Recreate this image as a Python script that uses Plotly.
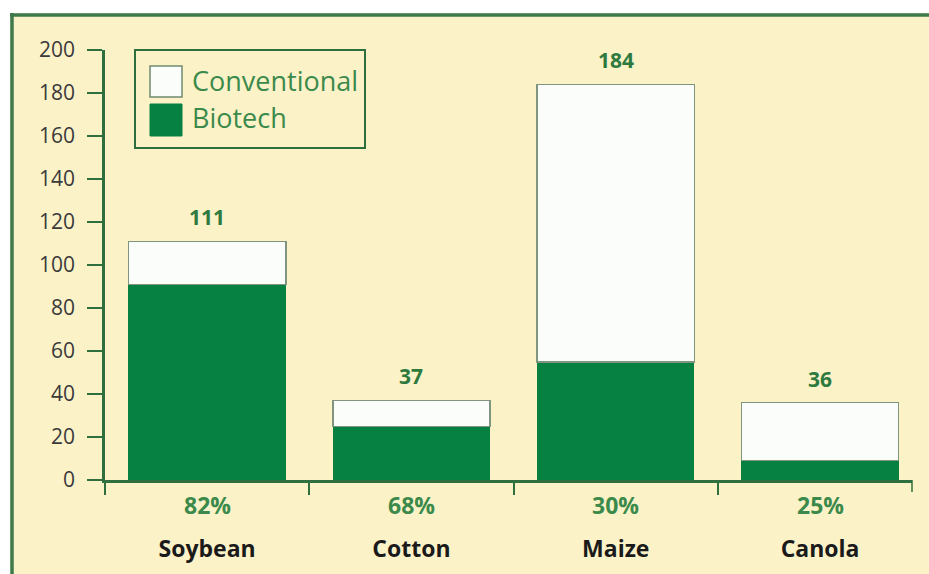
import plotly.graph_objects as go

# ---- data ----
crops = ["Soybean", "Cotton", "Maize", "Canola"]
totals = [111, 37, 184, 36]
biotech = [91, 25, 55, 9]
biotech_share = ["82%", "68%", "30%", "25%"]
conventional = [t - b for t, b in zip(totals, biotech)]
y_ticks = [0, 20, 40, 60, 80, 100, 120, 140, 160, 180, 200]

# ---- style ----
W, H = 929, 574
ML, MR, MT, MB = 105, 17, 50, 94
PW, PH = W - ML - MR, H - MT - MB
CAT_PX = 204.3  # pixel width of one category slot
CREAM = "#fcf2c8"
DKGREEN = "#2f6f3f"
BORDER = "#3f7a4c"
BIO = "#078141"
TXTGREEN = "#3b8a4b"
FONT = "Open Sans"

def px(x):
    return (x - ML) / PW

def py(y):
    return (H - MB - y) / PH

fig = go.Figure()
fig.add_trace(go.Bar(
    x=crops, y=biotech, name="Biotech",
    marker=dict(color=BIO, line=dict(width=0)),
    showlegend=False, hoverinfo="skip",
))
fig.add_trace(go.Bar(
    x=crops, y=conventional, name="Conventional",
    marker=dict(color="#fbfdfb", line=dict(color="#7f957f", width=1.5)),
    showlegend=False, hoverinfo="skip",
))

annotations = []
for c, t in zip(crops, totals):
    annotations.append(dict(
        x=c, y=t, xref="x", yref="y", text=f"<b>{t}</b>", showarrow=False,
        yanchor="bottom", yshift=8,
        font=dict(family=FONT, size=21, color="#2e7a3e"),
    ))
for c, p in zip(crops, biotech_share):
    annotations.append(dict(
        x=c, y=0, xref="x", yref="paper", text=f"<b>{p}</b>", showarrow=False,
        yanchor="middle", yshift=-25,
        font=dict(family=FONT, size=23, color=TXTGREEN),
    ))

# legend text
annotations.append(dict(x=px(190), y=py(80), xref="paper", yref="paper", text="Conventional",
                        showarrow=False, xanchor="left", yanchor="middle",
                        font=dict(family=FONT, size=27, color=TXTGREEN)))
annotations.append(dict(x=px(190), y=py(118), xref="paper", yref="paper", text="Biotech",
                        showarrow=False, xanchor="left", yanchor="middle",
                        font=dict(family=FONT, size=27, color=TXTGREEN)))

shapes = [
    # white strips outside the panel (top and left)
    dict(type="rect", xref="paper", yref="paper", layer="below",
         x0=px(-50), x1=px(1000), y0=py(13), y1=py(-50),
         fillcolor="white", line=dict(width=0)),
    dict(type="rect", xref="paper", yref="paper", layer="below",
         x0=px(-50), x1=px(10), y0=py(700), y1=py(-50),
         fillcolor="white", line=dict(width=0)),
    # panel border: top and left edges
    dict(type="line", xref="paper", yref="paper", layer="below",
         x0=px(10), x1=px(1000), y0=py(15), y1=py(15),
         line=dict(color=BORDER, width=3.5)),
    dict(type="line", xref="paper", yref="paper", layer="below",
         x0=px(12), x1=px(12), y0=py(13), y1=py(700),
         line=dict(color=BORDER, width=3.5)),
    # closing tick at the right end of the x axis
    dict(type="line", xref="paper", yref="paper",
         x0=1, x1=1, y0=0, y1=py(492),
         line=dict(color=DKGREEN, width=1.5)),
    # legend box
    dict(type="rect", xref="paper", yref="paper",
         x0=px(135), x1=px(365), y0=py(148), y1=py(50),
         fillcolor="rgba(0,0,0,0)", line=dict(color=DKGREEN, width=2)),
    dict(type="rect", xref="paper", yref="paper",
         x0=px(150), x1=px(182), y0=py(97), y1=py(66),
         fillcolor="#fbfdfb", line=dict(color="#6f8a6f", width=1.5)),
    dict(type="rect", xref="paper", yref="paper",
         x0=px(150), x1=px(182), y0=py(136), y1=py(104),
         fillcolor=BIO, line=dict(color=BIO, width=1)),
]

fig.update_layout(
    width=W, height=H,
    margin=dict(l=ML, r=MR, t=MT, b=MB, autoexpand=False),
    paper_bgcolor=CREAM,
    plot_bgcolor="rgba(0,0,0,0)",
    barmode="stack",
    bargap=0.23,
    showlegend=False,
    annotations=annotations,
    shapes=shapes,
    font=dict(family=FONT),
)
fig.update_xaxes(
    type="category", range=[-0.5, -0.5 + PW / CAT_PX],
    showline=True, linecolor=DKGREEN, linewidth=2.5,
    ticks="outside", ticklen=12, tickwidth=1.5, tickcolor=DKGREEN,
    tickson="boundaries",
    showgrid=False, zeroline=False,
    tickfont=dict(family=FONT, size=23, color="#1a1a1a", weight="bold"),
    ticklabelstandoff=47,
)
fig.update_yaxes(
    range=[0, 200], tickvals=y_ticks,
    showline=True, linecolor=DKGREEN, linewidth=2.5,
    ticks="outside", ticklen=15, tickwidth=1.5, tickcolor=DKGREEN,
    showgrid=False, zeroline=False,
    tickfont=dict(family=FONT, size=21, color="#3a3a3a"),
    ticklabelstandoff=8,
)

fig.write_html(
    "out.html",
    config={"displayModeBar": False},
    post_script="document.body.style.margin='0';document.body.style.overflow='hidden';",
)
